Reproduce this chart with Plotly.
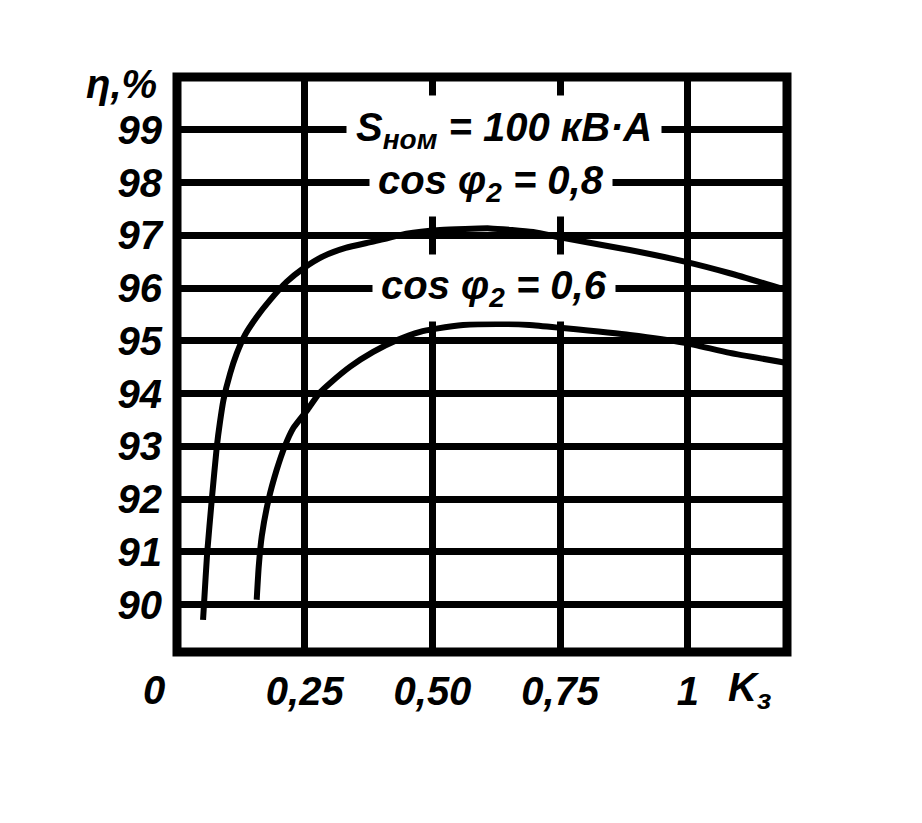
import plotly.graph_objects as go

# ---- data ----
k_08 = [0.051, 0.053, 0.059, 0.068, 0.078, 0.084, 0.091, 0.104, 0.117, 0.133, 0.156, 0.182,
        0.215, 0.247, 0.286, 0.330, 0.384, 0.449, 0.515, 0.613, 0.697, 0.755, 0.886, 0.994,
        1.082, 1.194]
eta_08 = [89.71, 90.03, 90.97, 91.98, 93.0, 93.45, 93.88, 94.38, 94.76, 95.11, 95.45, 95.77,
          96.12, 96.37, 96.6, 96.76, 96.88, 97.03, 97.1, 97.13, 97.06, 96.95, 96.72, 96.5,
          96.28, 95.96]

k_06 = [0.156, 0.160, 0.166, 0.179, 0.195, 0.211, 0.228, 0.256, 0.278, 0.300, 0.339, 0.384,
        0.430, 0.476, 0.508, 0.560, 0.626, 0.690, 0.755, 0.886, 0.994, 1.082, 1.194]
eta_06 = [90.09, 90.72, 91.3, 91.98, 92.55, 93.0, 93.35, 93.7, 94.0, 94.2, 94.51, 94.79,
          95.01, 95.17, 95.23, 95.3, 95.32, 95.3, 95.24, 95.11, 94.96, 94.77, 94.58]

x_ticks = [0.25, 0.50, 0.75, 1.0]
x_tick_labels = ["0,25", "0,50", "0,75", "1"]
y_ticks = [90, 91, 92, 93, 94, 95, 96, 97, 98, 99]
y_tick_labels = [str(v) for v in y_ticks]

X_MAX = 1.194
label_snom = "S<sub>ном</sub> = 100 кВ·А"
label_08 = "cos φ<sub>2</sub> = 0,8"
label_06 = "cos φ<sub>2</sub> = 0,6"

FONT = dict(family="Liberation Sans, Arial, sans-serif", size=40, color="black",
            weight="bold", style="italic")

fig = go.Figure()
for xs, ys in [(k_08, eta_08), (k_06, eta_06)]:
    fig.add_trace(go.Scatter(x=xs, y=ys, mode="lines",
                             line=dict(color="black", width=6, shape="spline", smoothing=0.5),
                             showlegend=False, hoverinfo="skip"))

fig.update_layout(
    width=922, height=823,
    margin=dict(l=169, r=143, t=69, b=179),
    paper_bgcolor="white", plot_bgcolor="white",
    font=FONT,
    xaxis=dict(range=[0, X_MAX], tickvals=x_ticks, ticktext=x_tick_labels,
               showgrid=True, gridcolor="black", gridwidth=7, zeroline=False,
               showline=False, ticks="", tickfont=FONT, ticklabelstandoff=12,
               automargin=False),
    yaxis=dict(range=[89.1, 100], tickvals=y_ticks, ticktext=y_tick_labels,
               showgrid=True, gridcolor="black", gridwidth=7, zeroline=False,
               showline=False, ticks="", tickfont=FONT, ticklabelstandoff=14,
               automargin=False),
)

# frame
fig.add_shape(type="rect", xref="paper", yref="paper", x0=0, x1=1, y0=0, y1=1,
              line=dict(color="black", width=9), layer="above")

# in-plot labels (white boxes interrupt grid lines)
fig.add_annotation(x=0.64, y=99, xref="x", yref="y", text=label_snom, showarrow=False,
                   font=FONT, bgcolor="white", borderpad=9)
fig.add_annotation(x=0.615, y=98, xref="x", yref="y", text=label_08, showarrow=False,
                   font=FONT, bgcolor="white", borderpad=8)
fig.add_annotation(x=0.62, y=96, xref="x", yref="y", text=label_06, showarrow=False,
                   font=FONT, bgcolor="white", borderpad=8)

# axis titles and the zero label
fig.add_annotation(x=-0.03, y=0.988, xref="paper", yref="paper", text="η,%",
                   showarrow=False, xanchor="right", yanchor="middle", font=FONT)
fig.add_annotation(x=-0.045 / X_MAX, y=-0.066, xref="paper", yref="paper", text="0",
                   showarrow=False, xanchor="center", yanchor="middle", font=FONT)
fig.add_annotation(x=1.12, y=-0.066, xref="x", yref="paper", text="K<sub>з</sub>",
                   showarrow=False, xanchor="center", yanchor="middle", font=FONT)

fig.write_html("out.html")
